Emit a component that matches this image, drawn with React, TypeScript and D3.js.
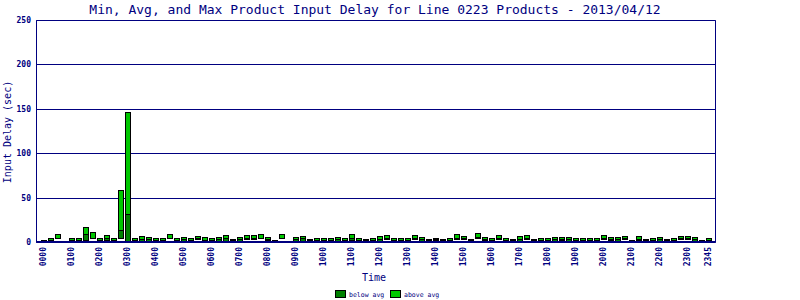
import React from "react";
import * as d3 from "d3";

const times: string[] = Array.from({ length: 96 }, (_, i) => {
  const h = Math.floor(i / 4);
  const m = (i % 4) * 15;
  return String(h).padStart(2, "0") + String(m).padStart(2, "0");
});
const tickLabels: string[] = [
  "0000","0100","0200","0300","0400","0500","0600","0700","0800","0900","1000","1100",
  "1200","1300","1400","1500","1600","1700","1800","1900","2000","2100","2200","2300","2345",
];
const minVals: number[] = [
  0, 0, 4, 0, 0, 1, 2, 4, 1.5, 2, 0, 4, 0, 0, 1, 0, 1.5, 0, 4, 1.5, 0, 1.5, 3, 0,
  0, 1.5, 0, 1, 0, 3.4, 3, 4.5, 2, 0, 4, 0, 0, 0, 0, 1, 0, 0, 0, 0, 2, 1.5, 0, 0,
  0, 3, 0, 0, 0, 3, 0, 0, 2, 0, 0, 3.5, 3, 0, 4.5, 2, 0, 3, 1, 0, 0, 3.4, 0, 0,
  0, 0, 2, 0, 0, 0, 0, 0, 3, 2, 0, 3, 0, 2, 0, 0, 0, 0, 0, 3, 3, 0, 0, 0,
];
const avgVals: number[] = [
  1, 2, 4.5, 0.5, 2, 2, 9, 4.5, 2.5, 4, 2.5, 13.5, 31, 2, 3.5, 3, 2.5, 2, 5, 2.5, 3, 2.5, 4, 2.5,
  2, 3, 4.5, 2, 3, 4, 4, 5, 3, 1, 4.5, 0.5, 3, 4, 2, 2.5, 2.5, 2.5, 3, 2.5, 4, 2.5, 2, 2.5,
  3, 4, 2.5, 2.5, 2.5, 4, 3, 2, 3, 2, 2.5, 4.5, 4, 2, 5.5, 3, 2.5, 4, 2.5, 2, 3.4, 4.5, 2, 2.5,
  2.5, 3, 3, 3, 2.5, 2.5, 2.5, 2.5, 4, 3, 3, 4, 1.5, 3.5, 2, 2.5, 3, 2, 2.5, 4, 4, 3, 1, 2.5,
];
const maxVals: number[] = [
  2.2, 4.5, 8.6, 1, 4.5, 4.5, 17, 11, 4.5, 8, 4.5, 58.5, 146.7, 4.5, 6.8, 5.6, 4.5, 4.5, 9, 4.5, 5.6, 4.5, 6.8, 5.6,
  4.5, 5.6, 8, 3.4, 5.6, 8, 8, 9, 5.6, 2.2, 9, 1, 5.6, 6.8, 3.4, 4.5, 4.5, 4.5, 5.6, 4.5, 9, 4.5, 3.4, 4.5,
  6.8, 8, 4.5, 4.5, 4.5, 8, 5.6, 3.4, 4.5, 3.4, 4.5, 9, 6.8, 3.4, 10, 5.6, 4.5, 8, 4.5, 3.4, 6.8, 8, 3.4, 4.5,
  4.5, 5.6, 5.6, 5.6, 4.5, 4.5, 4.5, 4.5, 7.5, 5.6, 5.6, 6.8, 2.2, 6.8, 3.4, 4.5, 5.6, 3.4, 4.5, 6.8, 6.8, 5.6, 2.2, 4.5,
];
const yTicks: number[] = [0, 50, 100, 150, 200, 250];

const NAVY = "#000080";
const DARK = "#008000";
const LIGHT = "#00c800";
const FONT = "'DejaVu Sans Mono', monospace";

export default function App() {
  const W = 800, H = 300;
  const left = 36.5, right = 715.5, top = 20.5, bottom = 242.5;
  const x = d3.scaleBand<string>().domain(times).range([40.3, 712.3]).paddingInner(0.2).paddingOuter(0.1);
  const y = d3.scaleLinear().domain([0, 250]).range([242, 20]);
  const bw = x.bandwidth();
  const r = (v: number) => Math.round(y(v)) + 0.5;

  return (
    <svg width={W} height={H} style={{ position: "absolute", left: 0, top: 0, background: "#fff" }}>
      <text x={375} y={14} textAnchor="middle" fontFamily={FONT} fontSize={13} fill={NAVY}>
        Min, Avg, and Max Product Input Delay for Line 0223 Products - 2013/04/12
      </text>
      {/* grid */}
      {yTicks.map((t) => (
        <g key={t}>
          <line x1={left} x2={right} y1={Math.round(y(t)) + 0.5} y2={Math.round(y(t)) + 0.5} stroke={NAVY} strokeWidth={1} />
          <line x1={left} x2={left + 3} y1={Math.round(y(t)) + 0.5} y2={Math.round(y(t)) + 0.5} stroke={NAVY} strokeWidth={1} />
          <text x={31} y={Math.round(y(t)) + 3} textAnchor="end" fontFamily={FONT} fontSize={8} fontWeight="bold" fill={NAVY}>
            {t}
          </text>
        </g>
      ))}
      {/* bars */}
      {times.map((t, i) => {
        const x0 = Math.round(x(t)!) + 0.5;
        const w = Math.round(bw) - 1;
        const yMin = r(minVals[i]);
        const yAvg = r(avgVals[i]);
        const yMax = r(maxVals[i]);
        return (
          <g key={t}>
            {yMin - yAvg > 0 && (
              <rect x={x0} y={yAvg} width={w} height={yMin - yAvg} fill={DARK} stroke="#000" strokeWidth={1} />
            )}
            {yAvg - yMax > 0 && (
              <rect x={x0} y={yMax} width={w} height={yAvg - yMax} fill={LIGHT} stroke="#000" strokeWidth={1} />
            )}
            {yMin - yMax <= 0 && (
              <line x1={x0} x2={x0 + w} y1={yMax} y2={yMax} stroke="#000" />
            )}
          </g>
        );
      })}
      {/* frame */}
      <line x1={left} x2={left} y1={top} y2={bottom} stroke={NAVY} />
      <line x1={left} x2={right} y1={bottom - 0.5} y2={bottom - 0.5} stroke={NAVY} strokeWidth={2} />
      <line x1={left} x2={right} y1={top} y2={top} stroke={NAVY} />
      <line x1={right} x2={right} y1={top} y2={bottom} stroke={NAVY} />
      {/* x tick labels */}
      {tickLabels.map((lab) => {
        const cx = x(lab)! + bw / 2 + 2.5;
        return (
          <text key={lab} transform={`translate(${cx},${247}) rotate(-90)`} textAnchor="end" fontFamily={FONT} fontSize={8} fontWeight="bold" fill={NAVY}>
            {lab}
          </text>
        );
      })}
      <text x={374} y={281} textAnchor="middle" fontFamily={FONT} fontSize={10} fill={NAVY}>Time</text>
      <text transform={`translate(11,132) rotate(-90)`} textAnchor="middle" fontFamily={FONT} fontSize={10} fill={NAVY}>
        Input Delay (sec)
      </text>
      {/* legend */}
      <rect x={335.5} y={290.5} width={10} height={7} fill={DARK} stroke="#000" />
      <text x={349} y={297} fontFamily={FONT} fontSize={6.5} fill={NAVY}>below avg</text>
      <rect x={390.5} y={290.5} width={10} height={7} fill={LIGHT} stroke="#000" />
      <text x={404} y={297} fontFamily={FONT} fontSize={6.5} fill={NAVY}>above avg</text>
    </svg>
  );
}
